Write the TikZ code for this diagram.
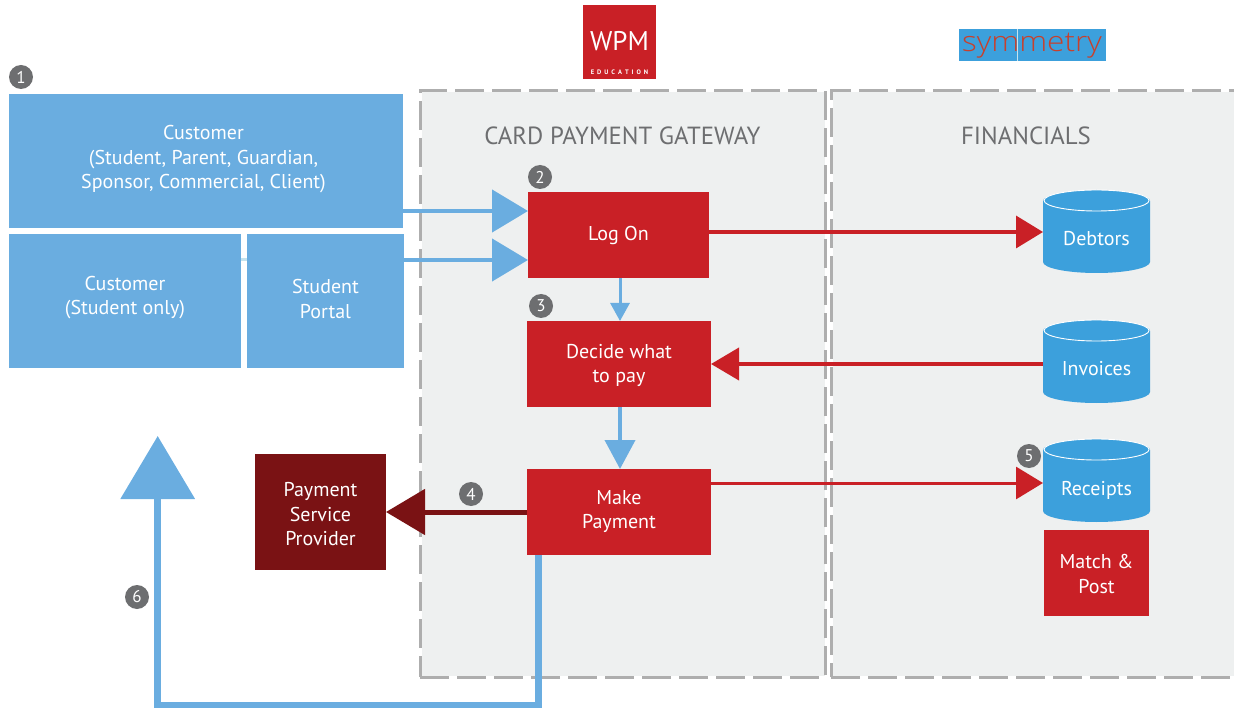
\documentclass[tikz,border=0pt]{standalone}
\usepackage{fontspec}
\setmainfont{PT Sans}
\newfontfamily\symfont[FakeStretch=1.13]{Open Sans Light}
\usetikzlibrary{arrows.meta,calc}
\definecolor{wpmblue}{HTML}{6AADE0}
\definecolor{cylblue}{HTML}{3CA0DC}
\definecolor{wpmred}{HTML}{C92026}
\definecolor{wpmdark}{HTML}{7A1214}
\definecolor{panelfill}{HTML}{EEF0F0}
\definecolor{panelline}{HTML}{AEAEAE}
\definecolor{badgegrey}{HTML}{6D6E70}
\definecolor{symred}{HTML}{C8402C}
\definecolor{linkpale}{HTML}{C5E3EE}
\tikzset{
  x=1pt,y=-1pt,
  basebox/.style={inner sep=0pt,outer sep=0pt},
  bluebox/.style={basebox,fill=wpmblue},
  redbox/.style={basebox,fill=wpmred},
  darkbox/.style={basebox,fill=wpmdark},
  boxtext/.style={inner sep=0pt,outer sep=0pt,text=white,align=center,font=\fontsize{20}{24.5}\selectfont},
  panelbg/.style={fill=panelfill,inner sep=0pt,outer sep=0pt},
  panel/.style={draw=panelline,line width=3pt,dash pattern=on 29pt off 8pt,inner sep=0pt,outer sep=0pt},
  paneltitle/.style={text=badgegrey,font=\fontsize{24.8}{28}\selectfont,inner sep=0pt},
  badge/.style={circle,fill=badgegrey,text=white,minimum size=24pt,inner sep=0pt,font=\fontsize{17}{17}\selectfont},
  headA/.style={-{Triangle[length=36pt,width=42pt]}},
  headB/.style={-{Triangle[length=27pt,width=32pt]}}
}
% name, top y, text, baseline offset
\newcommand{\cyl}[4]{%
  \fill[cylblue] (1043,#2+11) arc[start angle=180,end angle=360,x radius=53.5,y radius=11]
     -- (1150,#2+72) arc[start angle=0,end angle=180,x radius=53.5,y radius=11] -- cycle;
  \draw[white,line width=0.9pt] (1096.5,#2+10.5) ellipse[x radius=52.5,y radius=10.5];
  \node[inner sep=0pt,outer sep=0pt,minimum width=107pt,minimum height=83pt] (#1) at (1096.5,#2+41.5) {};
  \node[text=white,font=\fontsize{20}{24}\selectfont,inner sep=0pt,anchor=base] (#1t) at (1096.5,#2+#4) {#3};
}
\begin{document}
\begin{tikzpicture}
\useasboundingbox (0,0) rectangle (1234,708);
\clip (0,0) rectangle (1234,708);
% panels
\node[panelbg,minimum width=403pt,minimum height=583pt] (gwbg) at (623,384) {};
\node[panelbg,minimum width=417pt,minimum height=583pt] (finbg) at (1041,384) {};
\node[panel,minimum width=405pt,minimum height=586pt] (gw) at (622.5,384) {};
\node[panel,minimum width=420pt,minimum height=586pt] (fin) at (1041,384) {};
\node[paneltitle] (gwt) at (622.5,136) {CARD PAYMENT GATEWAY};
\node[paneltitle] (fint) at (1026,136) {FINANCIALS};
% logos
\node[fill=wpmred,minimum width=73pt,minimum height=74pt,inner sep=0pt] (wpm) at (619.5,42) {};
\node[text=white,font=\fontsize{27}{27}\selectfont,inner sep=0pt] (wpmt) at (619.5,41) {WPM};
\node[text=white,font=\fontsize{6.5}{6.5}\selectfont\bfseries,inner sep=0pt] (wpme) at (619.5,72.5) {E\hspace{3pt}D\hspace{3pt}U\hspace{3pt}C\hspace{3pt}A\hspace{3pt}T\hspace{3pt}I\hspace{3pt}O\hspace{3pt}N};
\node[fill=cylblue,minimum width=147pt,minimum height=32pt,inner sep=0pt] (sym) at (1032.5,45) {};
\node[text=symred,font=\symfont\fontsize{28}{28}\selectfont,inner sep=0pt,anchor=base] (symt) at (1032,52) {symmetry};
\draw[line width=0.7pt,draw=linkpale] (sym.north)++(-15.5,0) -- ++(0,32);
% boxes
\node[bluebox,minimum width=394pt,minimum height=134pt,label={[boxtext,xshift=-2.5pt,yshift=1.5pt]center:{Customer\\(Student, Parent, Guardian,\\Sponsor, Commercial, Client)}}] (cust) at (206,161) {};
\node[bluebox,minimum width=232pt,minimum height=134pt,label={[boxtext,yshift=3.5pt]center:{Customer\\(Student only)}}] (stud) at (125,301) {};
\node[bluebox,minimum width=157pt,minimum height=134pt,label={[boxtext,yshift=2pt]center:{Student\\Portal}}] (port) at (325.5,301) {};
\node[redbox,minimum width=181pt,minimum height=86pt,label={[boxtext,yshift=-1pt]center:{Log On}}] (logon) at (618.5,235) {};
\node[redbox,minimum width=184pt,minimum height=86pt,label={[boxtext,yshift=-1.5pt]center:{Decide what\\to pay}}] (decide) at (619,364) {};
\node[redbox,minimum width=184pt,minimum height=86pt,label={[boxtext,yshift=0.5pt]center:{Make\\Payment}}] (make) at (619,512) {};
\node[darkbox,minimum width=131pt,minimum height=116pt,label={[boxtext,yshift=-2.5pt]center:{Payment\\Service\\Provider}}] (psp) at (320.5,512) {};
\node[redbox,minimum width=105pt,minimum height=86pt,label={[boxtext,yshift=-1pt]center:{Match \&\\Post}}] (match) at (1096.5,573) {};
\cyl{debtors}{190}{Debtors}{56}
\cyl{invoices}{320}{Invoices}{56}
\cyl{receipts}{439}{Receipts}{56}
% connectors
\draw[draw=linkpale,line width=3pt] ([yshift=41pt]stud.east) -- ([yshift=41pt]port.west);
\draw[draw=wpmblue,line width=4.6pt,headA,wpmblue] ([yshift=-50pt]cust.east) -- ([yshift=24pt]logon.west);
\draw[draw=wpmblue,line width=4.6pt,headA,wpmblue] ([yshift=41pt]port.east) -- ([yshift=-25pt]logon.west);
\draw[draw=wpmblue,line width=3pt,wpmblue,-{Triangle[length=18pt,width=19pt]}] ([xshift=1.5pt]logon.south) -- ([xshift=1pt]decide.north);
\draw[draw=wpmblue,line width=4pt,wpmblue,-{Triangle[length=29pt,width=30pt]}] ([xshift=1pt]decide.south) -- ([xshift=1pt]make.north);
\draw[draw=wpmred,line width=3.5pt,wpmred,headB] ([yshift=3pt]logon.east) -- ([yshift=-0.5pt]debtors.west);
\draw[draw=wpmred,line width=4pt,wpmred,-{Triangle[length=28pt,width=32pt]}] (invoices.west|-decide.east) -- (decide.east);
\draw[draw=wpmred,line width=3pt,wpmred,headB] ([yshift=29pt]make.east) -- ([yshift=-2.5pt]receipts.west);
\draw[draw=wpmdark,line width=5pt,-{Triangle[length=39pt,width=45pt]},wpmdark] (make.west) -- (psp.east);
\coordinate (ret) at (157.7,436);
\draw[draw=wpmblue,line width=7pt,-{Triangle[length=63pt,width=73pt]},wpmblue] ([xshift=-81pt]make.south) -- ++(0,150) -| (ret);
% badges
\node[badge] (b1) at (21,77) {1};
\node[badge] (b2) at (540,177) {2};
\node[badge] (b3) at (541,306) {3};
\node[badge] (b4) at (471,494) {4};
\node[badge] (b5) at (1029,456) {5};
\node[badge] (b6) at (137,597) {6};
\end{tikzpicture}
\end{document}
